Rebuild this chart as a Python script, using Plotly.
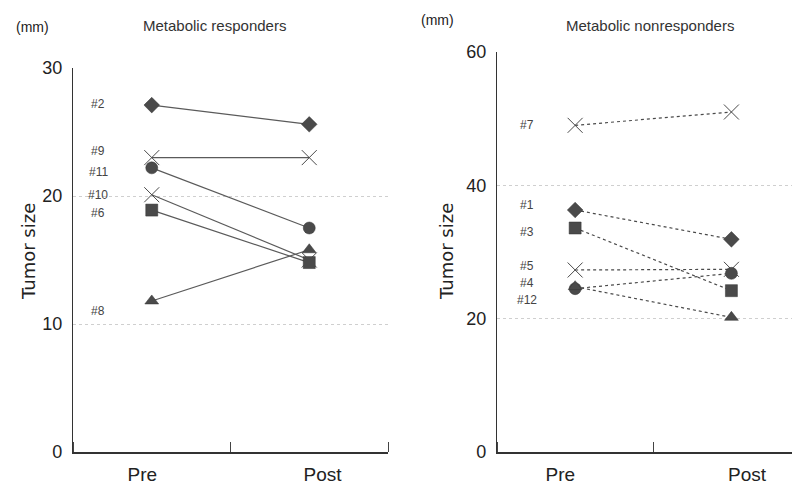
import plotly.graph_objects as go

categories = ["Pre", "Post"]

left_ids = ["#2", "#9", "#11", "#10", "#6", "#8"]
left_pre = [27.1, 23.0, 22.2, 20.1, 18.9, 11.8]
left_post = [25.6, 23.0, 17.5, 15.0, 14.8, 15.8]
left_symbols = ["diamond", "x-thin-open", "circle", "x-thin-open", "square", "triangle-up"]
left_label_y = [27.2, 23.5, 21.9, 20.1, 18.7, 11.0]

right_ids = ["#7", "#1", "#3", "#5", "#4", "#12"]
right_pre = [49.0, 36.3, 33.6, 27.3, 24.5, 24.8]
right_post = [51.0, 31.9, 24.2, 27.4, 26.8, 20.2]
right_symbols = ["x-thin-open", "diamond", "square", "x-thin-open", "circle", "triangle-up"]
right_label_y = [49.0, 37.0, 33.0, 27.9, 25.3, 22.8]

left_yticks = [0, 10, 20, 30]
right_yticks = [0, 20, 40, 60]

FONT = "Liberation Sans, Arial, sans-serif"
TITLEFONT = "DejaVu Sans, Liberation Sans, sans-serif"
MK = "#4a4a4a"

# the page body adds an 8px offset; convert screen pixels to paper fractions
OFF = 8
def px(x):
    return (x - OFF) / 800
def py(y):
    return 1 - (y - OFF) / 487

xpos = list(range(len(categories)))  # category index used as x position

fig = go.Figure()

def add_panel(ids, pre, post, symbols, xa, ya, dash, lcolor):
    for i, pid in enumerate(ids):
        sym = symbols[i]
        is_x = sym.startswith("x")
        fig.add_trace(go.Scatter(
            x=xpos, y=[pre[i], post[i]], mode="lines+markers",
            xaxis=xa, yaxis=ya, showlegend=False, name=pid,
            line=dict(color=lcolor, width=1.2, dash=dash),
            marker=dict(symbol=sym, size=15 if is_x else 12, color=MK,
                        line=dict(color="#333333", width=1 if is_x else 0.5)),
        ))

add_panel(left_ids, left_pre, left_post, left_symbols, "x", "y", "solid", "#5a5a5a")
add_panel(right_ids, right_pre, right_post, right_symbols, "x2", "y2", "dot", "#4a4a4a")

annotations = []
for pid, ly in zip(left_ids, left_label_y):
    annotations.append(dict(x=-0.34, y=ly, xref="x", yref="y", text=pid, showarrow=False,
                            xanchor="center", yanchor="middle",
                            font=dict(family=FONT, size=12, color="#444")))
for pid, ly in zip(right_ids, right_label_y):
    annotations.append(dict(x=-0.31, y=ly, xref="x2", yref="y2", text=pid, showarrow=False,
                            xanchor="center", yanchor="middle",
                            font=dict(family=FONT, size=12, color="#444")))

def txt(x, y, text, size, family=FONT, angle=0, color="#222"):
    return dict(x=px(x), y=py(y), xref="paper", yref="paper", text=text, showarrow=False,
                xanchor="center", yanchor="middle", textangle=angle,
                font=dict(family=family, size=size, color=color))

annotations += [
    txt(32, 27, "(mm)", 14),
    txt(437, 20, "(mm)", 14),
    txt(215, 25, "Metabolic responders", 15, color="#333"),
    txt(650, 25, "Metabolic nonresponders", 15, color="#333"),
    txt(28, 252, "Tumor size", 18, family=TITLEFONT, angle=-90),
    txt(446, 252, "Tumor size", 18, family=TITLEFONT, angle=-90),
]

xcommon = dict(ticks="", showline=True, linecolor="#333", linewidth=1.5,
               showgrid=False, zeroline=False, automargin=False, ticklabelstandoff=4,
               minor=dict(tickmode="linear", tick0=0.5, dtick=1, ticks="inside", ticklen=10,
                          tickcolor="#444", showgrid=False),
               tickfont=dict(family=FONT, size=19, color="#222"))
ycommon = dict(showline=True, linecolor="#333", linewidth=1.2, ticks="", showgrid=True,
               gridcolor="#cfcfcf", griddash="dot", gridwidth=1, zeroline=False, automargin=False,
               tickfont=dict(family=FONT, size=18, color="#222"), ticklabelstandoff=6)

fig.update_layout(
    width=800, height=487, margin=dict(l=0, r=0, t=0, b=0),
    paper_bgcolor="white", plot_bgcolor="white",
    xaxis=dict(domain=[px(73), px(388)], range=[-0.5, 1.5], anchor="y",
               tickvals=[-0.06, 1.085], ticktext=categories, **xcommon),
    yaxis=dict(domain=[py(452), py(68)], range=[0, 30], tickvals=left_yticks, anchor="x", **ycommon),
    xaxis2=dict(domain=[px(497), 1.0], range=[-0.5, 1.49], anchor="y2",
                tickvals=[-0.095, 1.1], ticktext=categories, **xcommon),
    yaxis2=dict(domain=[py(452), py(52)], range=[0, 60], tickvals=right_yticks, anchor="x2", **ycommon),
    annotations=annotations,
)

fig.write_html("out.html")
